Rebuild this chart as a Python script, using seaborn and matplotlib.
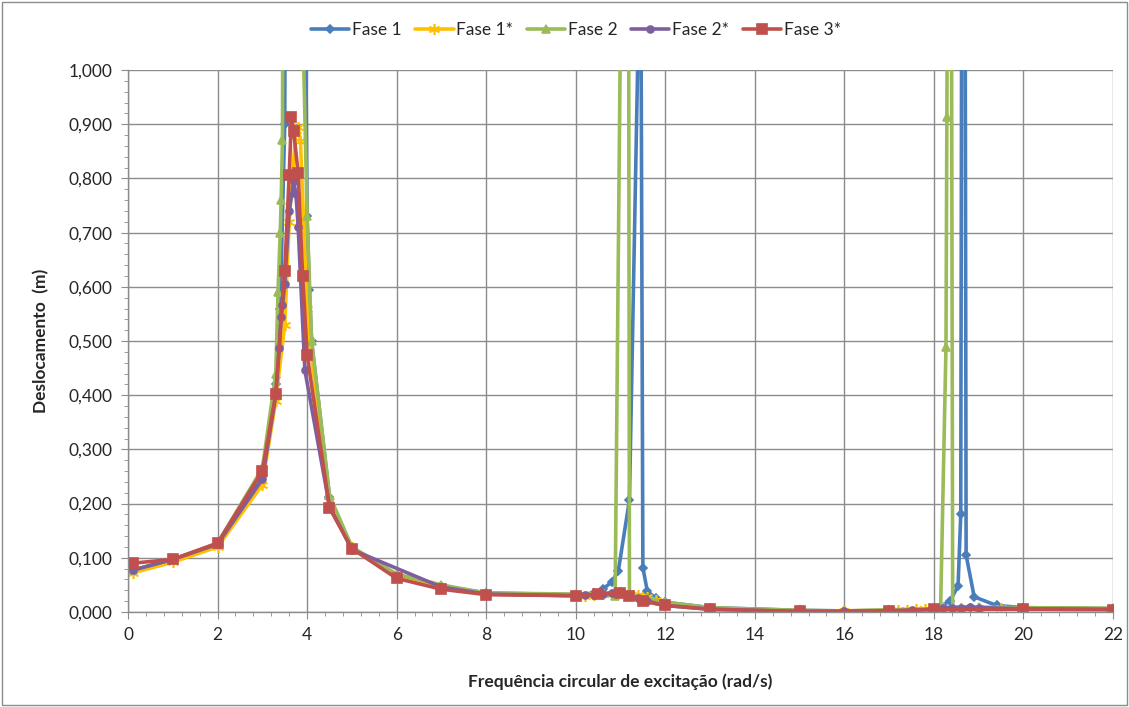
import matplotlib
matplotlib.use("Agg")
import numpy as np
import pandas as pd
import seaborn as sns
import matplotlib.pyplot as plt
from matplotlib.ticker import MultipleLocator, FuncFormatter
from matplotlib.patches import Rectangle

# %% data
fase1_x = [0.1, 1, 2, 3, 3.3, 3.4, 3.5, 3.7, 3.9, 4.0, 4.05, 4.1, 4.5, 5, 6, 7, 8, 10, 10.4, 10.6,
           10.8, 10.95, 11.2, 11.45, 11.5, 11.6, 11.8, 12, 13, 15, 16, 17, 18, 18.36, 18.54, 18.6,
           18.66, 18.72, 18.9, 19.4, 20, 22]
fase1_y = [0.077, 0.097, 0.125, 0.25, 0.42, 0.56, 0.9, 6.0, 1.8, 0.73, 0.595, 0.5, 0.212, 0.118,
           0.068, 0.048, 0.035, 0.032, 0.035, 0.042, 0.055, 0.075, 0.207, 1.3, 0.082, 0.038, 0.025,
           0.018, 0.008, 0.003, 0.002, 0.003, 0.005, 0.02, 0.048, 0.18, 3.0, 0.105, 0.028, 0.012,
           0.008, 0.006]

fase1s_x = [0.1, 1, 2, 3, 3.3, 3.5, 3.6, 3.75, 3.8, 3.85, 4.0, 4.05, 4.5, 5, 6, 7, 8, 10, 10.2,
            10.4, 10.6, 10.8, 11, 11.2, 11.4, 11.6, 11.8, 12, 13, 15, 16, 17, 17.2, 17.4, 17.6,
            17.8, 18, 18.2, 18.4, 18.6, 18.8, 19, 19.5, 20, 22]
fase1s_y = [0.072, 0.092, 0.12, 0.235, 0.39, 0.53, 0.72, 0.89, 0.895, 0.87, 0.56, 0.5, 0.205,
            0.12, 0.063, 0.045, 0.033, 0.03, 0.03, 0.031, 0.033, 0.034, 0.036, 0.035, 0.032, 0.028,
            0.022, 0.015, 0.006, 0.002, 0.002, 0.003, 0.004, 0.004, 0.005, 0.005, 0.006, 0.007,
            0.008, 0.008, 0.007, 0.007, 0.007, 0.006, 0.005]

fase2_x = [0.1, 1, 2, 3, 3.3, 3.35, 3.4, 3.42, 3.45, 3.5, 3.7, 3.8, 3.9, 4.0, 4.1, 4.5, 5, 6, 7, 8,
           10, 10.5, 10.88, 11.16, 11.2, 11.6, 12, 13, 15, 16, 17, 18, 18.15, 18.27, 18.29, 18.36,
           18.42, 18.6, 19, 20, 22]
fase2_y = [0.077, 0.097, 0.127, 0.265, 0.44, 0.59, 0.70, 0.76, 0.871, 3.0, 8.0, 3.0, 1.1, 0.73,
           0.50, 0.215, 0.12, 0.07, 0.05, 0.035, 0.033, 0.033, 0.03, 2.5, 0.03, 0.025, 0.018,
           0.008, 0.003, 0.002, 0.004, 0.006, 0.006, 0.489, 0.914, 2.5, 0.008, 0.008, 0.009,
           0.008, 0.007]

fase2s_x = [0.1, 1, 2, 3, 3.3, 3.38, 3.42, 3.45, 3.5, 3.6, 3.7, 3.75, 3.8, 3.95, 4.5, 5, 7, 8, 10,
            10.2, 10.4, 10.6, 10.8, 11, 11.2, 11.4, 11.6, 12, 13, 15, 16, 17, 17.5, 18, 18.2,
            18.4, 18.6, 18.8, 19, 20, 22]
fase2s_y = [0.077, 0.097, 0.125, 0.245, 0.40, 0.487, 0.545, 0.566, 0.605, 0.74, 0.795, 0.772,
            0.711, 0.446, 0.195, 0.115, 0.046, 0.033, 0.03, 0.031, 0.032, 0.033, 0.035, 0.035,
            0.03, 0.025, 0.02, 0.012, 0.005, 0.001, 0.001, 0.002, 0.003, 0.005, 0.007, 0.008,
            0.008, 0.009, 0.008, 0.006, 0.005]

fase3s_x = [0.1, 1, 2, 3, 3.3, 3.5, 3.6, 3.65, 3.7, 3.8, 3.9, 4.0, 4.5, 5, 6, 7, 8, 10, 10.5, 11,
            11.2, 11.5, 12, 13, 15, 17, 18, 20, 22]
fase3s_y = [0.09, 0.097, 0.127, 0.26, 0.402, 0.63, 0.806, 0.913, 0.887, 0.81, 0.62, 0.475, 0.192,
            0.117, 0.062, 0.042, 0.032, 0.03, 0.033, 0.035, 0.03, 0.02, 0.012, 0.005, 0.001,
            0.002, 0.005, 0.005, 0.004]

series = [
    ("Fase 1", fase1_x, fase1_y, "#4A7EBB", "D", 4.5),
    ("Fase 1*", fase1s_x, fase1s_y, "#FFC000", (6, 2, 0), 8),
    ("Fase 2", fase2_x, fase2_y, "#9BBB59", "^", 6),
    ("Fase 2*", fase2s_x, fase2s_y, "#7D5FA0", "o", 5),
    ("Fase 3*", fase3s_x, fase3s_y, "#C0504D", "s", 6.5),
]

# %% plot
sns.set_style("white")
plt.rcParams["font.family"] = ["Lato", "DejaVu Sans"]

fig = plt.figure(figsize=(11.29, 7.07), dpi=100)
ax = fig.add_axes([0.1134, 0.1344, 0.8724, 0.7665])

for name, xs, ys, color, marker, ms in series:
    df = pd.DataFrame({"x": xs, "y": ys})
    sns.lineplot(data=df, x="x", y="y", ax=ax, sort=False, estimator=None, color=color,
                 linewidth=2.6, marker=marker, markersize=ms, markeredgecolor=color,
                 markeredgewidth=1.2, label=name)

ax.set_xlim(0, 22)
ax.set_ylim(0, 1)
ax.xaxis.set_major_locator(MultipleLocator(2))
ax.xaxis.set_minor_locator(MultipleLocator(0.4))
ax.yaxis.set_major_locator(MultipleLocator(0.1))
ax.yaxis.set_minor_locator(MultipleLocator(0.02))
ax.yaxis.set_major_formatter(FuncFormatter(lambda v, p: f"{v:.3f}".replace(".", ",")))
ax.xaxis.set_major_formatter(FuncFormatter(lambda v, p: f"{v:.0f}"))

ax.grid(True, which="major", color="#8C8C8C", linewidth=1.0)
ax.set_axisbelow(True)
for s in ["top", "right"]:
    ax.spines[s].set_visible(False)
for s in ["left", "bottom"]:
    ax.spines[s].set_color("#8C8C8C")
    ax.spines[s].set_linewidth(1.0)

ax.tick_params(axis="both", which="major", direction="out", length=5, color="#8C8C8C",
               labelsize=12.5, pad=6, bottom=True, left=True)
ax.tick_params(axis="both", which="minor", direction="out", length=3, color="#8C8C8C",
               bottom=True, left=True)

ax.set_xlabel("Frequência circular de excitação (rad/s)", fontsize=12.5, fontweight="bold", labelpad=22)
ax.set_ylabel("Deslocamento  (m)", fontsize=12.5, fontweight="bold", labelpad=14)

ax.get_legend().remove()
handles, labels = ax.get_legend_handles_labels()
fig.legend(handles, labels, loc="center", bbox_to_anchor=(0.51, 0.957), ncol=5, frameon=False,
           fontsize=12.5, handlelength=2.2, columnspacing=0.8, handletextpad=0.15)

fig.patches.append(Rectangle((0.002, 0.003), 0.996, 0.994, transform=fig.transFigure,
                             fill=False, edgecolor="#8C8C8C", linewidth=1.0))

plt.savefig("out.png", dpi=100)
